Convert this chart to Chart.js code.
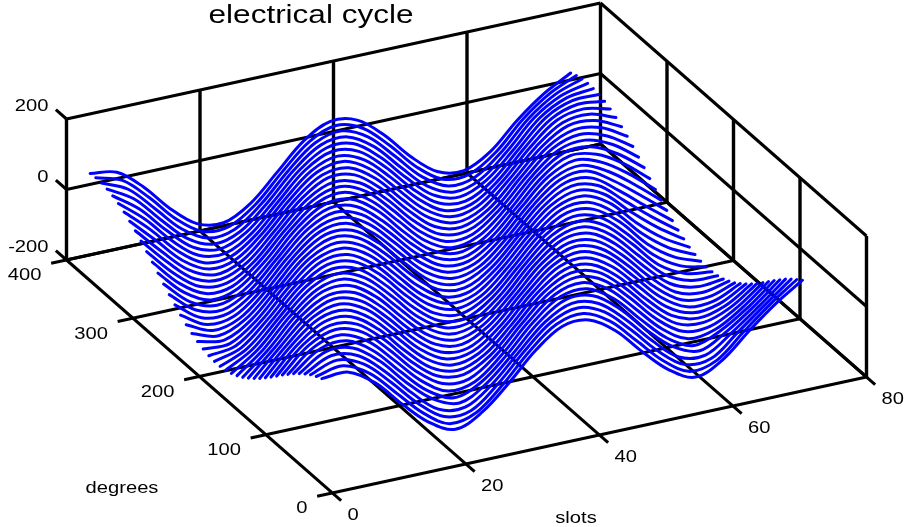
<!DOCTYPE html>
<html>
<head>
<meta charset="utf-8">
<style>
  html, body { margin: 0; padding: 0; background: #fff; }
  canvas { display: block; }
</style>
<script src="https://cdn.jsdelivr.net/npm/chart.js@4"></script>
</head>
<body>
<canvas id="chart" width="909" height="527"></canvas>
<script>
const chartTitle = 'electrical cycle';
const slotTicks = [0, 20, 40, 60, 80];
const degreeTicks = [0, 100, 200, 300, 400];
const valueTicks = [-200, 0, 200];

// slots where each curve was read
const slots = [0, 4, 8, 12, 16, 20, 24, 28, 32, 36, 40, 44, 48, 52, 56, 60, 64, 68, 72];
// one curve per degree value, front to back
const degrees = [16, 24.5, 33, 41.5, 50, 58.5, 67, 75.5, 84, 92.5, 101, 109.5, 118, 126.5,
  135, 143.5, 152, 160.5, 169, 177.5, 186, 194.5, 203, 211.5, 220, 228.5, 237, 245.5,
  254, 262.5, 271, 279.5, 288, 296.5, 305, 313.5, 322, 330.5, 339, 347.5, 356, 364.5];
const surface = [
  [98,100,53,-23,-91,-128,-96,-30,46,98,100,53,-23,-91,-128,-96,-30,31,81],
  [90,104,66,-6,-79,-126,-111,-47,31,90,104,66,-6,-79,-126,-111,-47,15,69],
  [81,106,78,11,-65,-120,-120,-62,15,81,106,78,11,-65,-120,-120,-62,-2,56],
  [69,105,88,27,-50,-113,-124,-76,-2,69,105,88,27,-50,-113,-124,-76,-19,42],
  [56,102,96,43,-34,-98,-126,-88,-19,56,102,96,43,-34,-98,-126,-88,-35,26],
  [42,96,102,57,-18,-88,-125,-99,-35,42,96,102,57,-18,-88,-125,-99,-51,10],
  [26,88,105,70,-1,-75,-120,-110,-51,26,88,105,70,-1,-75,-120,-110,-66,-7],
  [10,78,106,82,16,-61,-113,-116,-66,10,78,106,82,16,-61,-113,-116,-80,-24],
  [-7,66,104,91,32,-46,-105,-118,-80,-7,66,104,91,32,-46,-105,-118,-92,-40],
  [-24,52,100,98,47,-30,-96,-120,-92,-24,52,100,98,47,-30,-96,-120,-102,-56],
  [-40,37,94,103,61,-13,-84,-119,-102,-40,37,94,103,61,-13,-84,-119,-110,-70],
  [-56,21,85,106,74,4,-71,-116,-110,-56,21,85,106,74,4,-71,-116,-116,-83],
  [-70,5,74,106,84,20,-57,-110,-116,-70,5,74,106,84,20,-57,-110,-119,-95],
  [-83,-12,62,103,93,36,-41,-102,-119,-83,-12,62,103,93,36,-41,-102,-120,-104],
  [-95,-29,48,99,100,51,-25,-92,-120,-95,-29,48,99,100,51,-25,-92,-118,-112],
  [-104,-45,33,91,104,65,-8,-80,-118,-104,-45,33,91,104,65,-8,-80,-114,-117],
  [-112,-60,17,82,106,77,9,-67,-114,-112,-60,17,82,106,77,9,-67,-108,-120],
  [-117,-74,0,71,105,87,25,-52,-108,-117,-74,0,71,105,87,25,-52,-100,-120],
  [-120,-87,-17,58,102,95,41,-36,-100,-120,-87,-17,58,102,95,41,-36,-89,-118],
  [-120,-98,-33,43,97,101,55,-20,-89,-120,-98,-33,43,97,101,55,-20,-77,-113],
  [-118,-107,-49,28,89,105,69,-3,-77,-118,-107,-49,28,89,105,69,-3,-63,-106],
  [-113,-114,-64,12,79,106,80,14,-63,-113,-114,-64,12,79,106,80,14,-47,-97],
  [-106,-118,-78,-5,67,105,90,30,-47,-106,-118,-78,-5,67,105,90,30,-31,-86],
  [-97,-120,-90,-22,54,101,97,45,-31,-97,-120,-90,-22,54,101,97,45,-15,-73],
  [-86,-119,-101,-38,39,95,103,59,-15,-86,-119,-101,-38,39,95,103,59,2,-58],
  [-73,-116,-109,-54,23,86,105,72,2,-73,-116,-109,-54,23,86,105,72,18,-43],
  [-58,-111,-115,-69,7,76,106,83,18,-58,-111,-115,-69,7,76,106,83,34,-27],
  [-43,-103,-119,-82,-10,63,104,92,34,-43,-103,-119,-82,-10,63,104,92,50,-10],
  [-27,-94,-120,-94,-27,50,99,99,50,-27,-94,-120,-94,-27,50,99,99,63,7],
  [-10,-82,-119,-103,-43,34,92,104,63,-10,-82,-119,-103,-43,34,92,104,76,23],
  [7,-69,-115,-111,-58,18,83,106,76,7,-69,-115,-111,-58,18,83,106,86,39],
  [23,-54,-109,-116,-73,2,72,105,86,23,-54,-109,-116,-73,2,72,105,95,54],
  [39,-38,-101,-119,-86,-15,59,103,95,39,-38,-101,-119,-86,-15,59,103,101,67],
  [54,-22,-90,-120,-97,-31,45,97,101,54,-22,-90,-120,-97,-31,45,97,105,79],
  [67,-5,-78,-118,-106,-47,30,90,105,67,-5,-78,-118,-106,-47,30,90,106,89],
  [79,12,-64,-114,-113,-63,14,80,106,79,12,-64,-114,-113,-63,14,80,105,97],
  [89,28,-49,-107,-118,-77,-3,69,105,89,28,-49,-107,-118,-77,-3,69,101,102],
  [97,43,-33,-98,-120,-89,-20,55,101,97,43,-33,-98,-120,-89,-20,55,95,105],
  [102,58,-17,-87,-120,-100,-36,41,95,102,58,-17,-87,-120,-100,-36,41,87,106],
  [105,71,0,-74,-117,-108,-52,25,87,105,71,0,-74,-117,-108,-52,25,77,104],
  [106,82,17,-60,-112,-114,-67,9,77,106,82,17,-60,-112,-114,-67,9,65,100],
  [104,91,33,-45,-104,-118,-80,-8,65,104,91,33,-45,-104,-118,-80,-8,51,93]
];

// 3d axes to flat chart units (the plot is a parallel projection)
function project(slot, degree, value) {
  return {
    x: 332.5 + 6.675 * slot - 0.665 * degree,
    y: 493 - 1.45 * slot - 0.5825 * degree - 0.3525 * (value + 200)
  };
}

function gridLine(from, to, width) {
  return {
    data: [project(...from), project(...to)],
    borderColor: '#000',
    borderWidth: width || 3,
    pointRadius: 0,
    showLine: true,
    tension: 0,
    order: 1
  };
}

const datasets = [];

// floor
slotTicks.forEach(s => datasets.push(gridLine([s, -13, -200], [s, 400, -200])));
degreeTicks.forEach(d => datasets.push(gridLine([-2.3, d, -200], [80, d, -200])));
// back walls
valueTicks.forEach(v => {
  datasets.push(gridLine([0, 416, v], [0, 400, v]));
  datasets.push(gridLine([0, 400, v], [80, 400, v]));
  datasets.push(gridLine([80, 400, v], [80, 0, v]));
});
slotTicks.forEach(s => datasets.push(gridLine([s, 400, -200], [s, 400, 200], 3.4)));
degreeTicks.slice(0, 4).forEach(d => datasets.push(gridLine([80, d, -200], [80, d, 200], 3.4)));

// the curves
surface.forEach((row, i) => {
  datasets.push({
    data: row.map((v, j) => project(slots[j], degrees[i], v)),
    borderColor: '#0000ff',
    borderWidth: 3,
    borderCapStyle: 'round',
    pointRadius: 0,
    showLine: true,
    tension: 0.35,
    order: 0
  });
});

// all axis text, stretched sideways like the original
const textPlugin = {
  id: 'axisText',
  afterDraw(chart) {
    const ctx = chart.ctx;
    const sx = chart.scales.x;
    const sy = chart.scales.y;

    function put(text, x, y, align, size) {
      ctx.save();
      ctx.translate(sx.getPixelForValue(x), sy.getPixelForValue(y));
      ctx.scale(1.26, 1);
      ctx.font = size + 'px "Liberation Sans"';
      ctx.fillStyle = '#000';
      ctx.textAlign = align;
      ctx.textBaseline = 'middle';
      ctx.fillText(text, 0, 0);
      ctx.restore();
    }

    put(chartTitle, 311, 16, 'center', 25);
    valueTicks.forEach(v => {
      const p = project(0, 400, v);
      put(String(v), p.x - 18, p.y - 12, 'right', 16);
    });
    degreeTicks.forEach(d => {
      const p = project(0, d, -200);
      put(String(d), p.x - 25, p.y + 16, 'right', 16);
    });
    slotTicks.forEach(s => {
      const p = project(s, 0, -200);
      put(String(s), p.x + 15, p.y + 23, 'left', 16);
    });
    put('degrees', 122, 489, 'center', 16);
    put('slots', 576, 519, 'center', 16);
  }
};

new Chart(document.getElementById('chart').getContext('2d'), {
  type: 'scatter',
  data: { datasets: datasets },
  options: {
    responsive: false,
    animation: false,
    layout: { padding: 0 },
    plugins: { legend: { display: false }, tooltip: { enabled: false } },
    scales: {
      x: { type: 'linear', min: 0, max: 909, display: false },
      y: { type: 'linear', min: 0, max: 527, reverse: true, display: false }
    }
  },
  plugins: [textPlugin]
});
</script>
</body>
</html>
